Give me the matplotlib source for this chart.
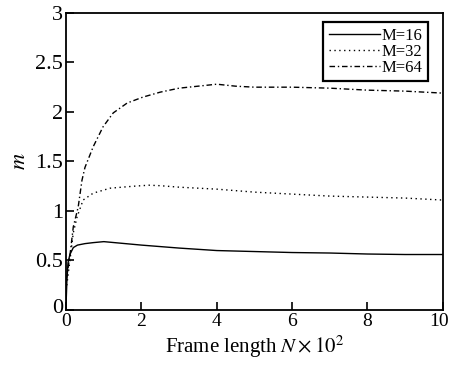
import matplotlib
matplotlib.use("Agg")
import matplotlib.pyplot as plt
from matplotlib.transforms import ScaledTranslation

plt.rcParams['font.family'] = ['Liberation Serif', 'DejaVu Serif']
plt.rcParams['mathtext.fontset'] = 'stix'

# data (N in units of 10^2)
x16 = [0, 0.02, 0.05, 0.1, 0.19, 0.3, 0.5, 0.72, 1, 2, 3, 4, 5, 6, 7, 8, 9, 10]
m16 = [0.08, 0.3, 0.48, 0.56, 0.63, 0.655, 0.67, 0.68, 0.69, 0.655, 0.625, 0.60, 0.59, 0.58, 0.575, 0.565, 0.56, 0.56]

x32 = [0, 0.1, 0.19, 0.29, 0.45, 0.72, 1.17, 1.8, 2.2, 2.5, 3, 4, 5, 6, 7, 8, 9, 10]
m32 = [0.2, 0.5, 0.78, 0.94, 1.11, 1.18, 1.23, 1.25, 1.26, 1.255, 1.24, 1.22, 1.19, 1.17, 1.15, 1.14, 1.13, 1.11]

x64 = [0, 0.1, 0.19, 0.32, 0.42, 0.5, 0.72, 0.98, 1.25, 1.62, 2.04, 2.5, 3, 3.5, 4, 4.5, 5, 6, 7, 8, 9, 10]
m64 = [0.3, 0.55, 0.84, 1.04, 1.31, 1.44, 1.65, 1.85, 1.99, 2.09, 2.15, 2.2, 2.24, 2.26, 2.28, 2.26, 2.25, 2.25, 2.24, 2.22, 2.21, 2.19]

fig = plt.figure(figsize=(4.5, 3.69), dpi=100)
ax = fig.add_axes([0.147, 0.16, 0.837, 0.805])

ax.plot(x16, m16, color='black', lw=1.0, ls='-', label='M=16')
ax.plot(x32, m32, color='black', lw=1.0, ls=(0, (1, 2.5)), label='M=32')
ax.plot(x64, m64, color='black', lw=1.0, ls=(0, (4, 2, 1, 2)), label='M=64')

ax.set_xlim(0, 10)
ax.set_ylim(0, 3)
ax.set_xticks([0, 2, 4, 6, 8, 10])
ax.set_yticks([0, 0.5, 1, 1.5, 2, 2.5, 3])
ax.set_yticklabels(['0', '0.5', '1', '1.5', '2', '2.5', '3'])
ax.tick_params(direction='in', length=6, width=1.2)
ax.tick_params(axis='x', labelsize=14, pad=2)
ax.tick_params(axis='y', labelsize=16, pad=2)
for s in ax.spines.values():
    s.set_linewidth(1.3)

# small nudges: keep "10" inside the picture, keep the two zeros apart
lbl = ax.get_xticklabels()[-1]
lbl.set_transform(lbl.get_transform() + ScaledTranslation(-4 / 100, 0, fig.dpi_scale_trans))
lbl0 = ax.get_yticklabels()[0]
lbl0.set_transform(lbl0.get_transform() + ScaledTranslation(0, 4 / 100, fig.dpi_scale_trans))

ax.set_xlabel(r'Frame length $N\times10^2$', fontsize=15, labelpad=3)
ax.set_ylabel(r'$m$', fontsize=16, labelpad=4)

leg = ax.legend(loc='upper right', bbox_to_anchor=(0.96, 0.97), borderaxespad=0,
                fontsize=12, fancybox=False, edgecolor='black', framealpha=1,
                handlelength=3.1, borderpad=0.35, labelspacing=0.0,
                handletextpad=0.05)
leg.get_frame().set_linewidth(1.6)

fig.savefig('out.png', dpi=100)
